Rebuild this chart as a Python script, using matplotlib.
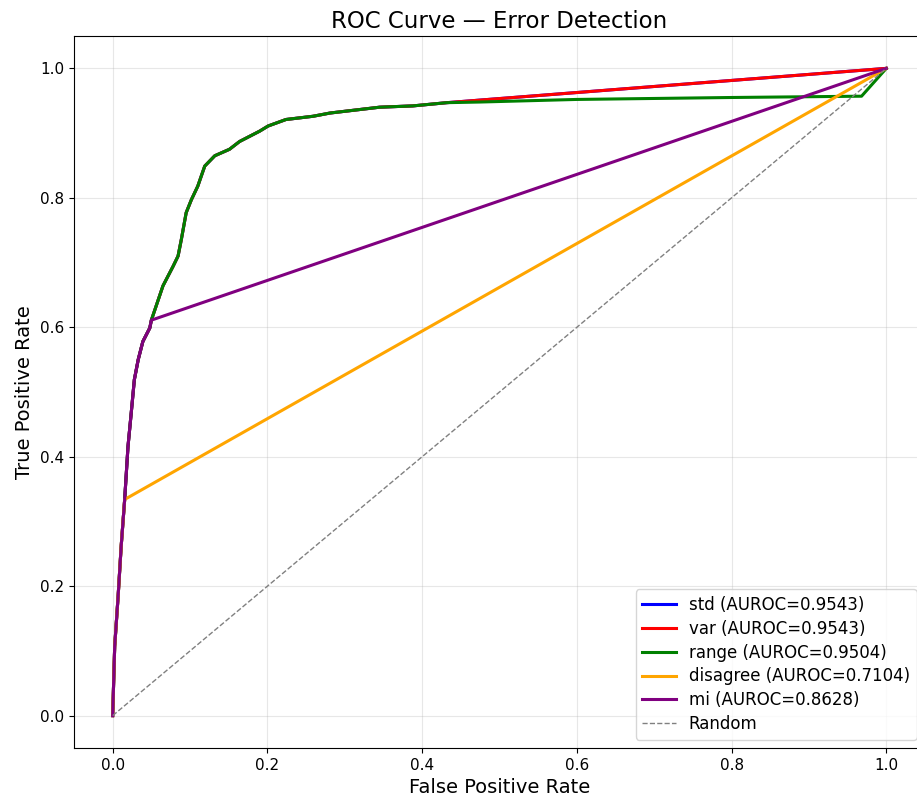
import matplotlib
matplotlib.use("Agg")
import matplotlib.pyplot as plt
import numpy as np

# shared base ROC curve (std / var / range share it at low FPR)
base_fpr = [0.0, 0.0026, 0.007, 0.011, 0.0155, 0.0198, 0.024, 0.028, 0.033, 0.039, 0.048, 0.050,
            0.065, 0.078, 0.0845, 0.0888, 0.095, 0.1017, 0.110, 0.119, 0.132, 0.151, 0.164,
            0.190, 0.201, 0.224, 0.259, 0.281, 0.345, 0.388, 0.432]
base_tpr = [0.0, 0.107, 0.184, 0.262, 0.334, 0.416, 0.468, 0.519, 0.550, 0.578, 0.599, 0.611,
            0.664, 0.694, 0.710, 0.736, 0.777, 0.797, 0.818, 0.849, 0.865, 0.875, 0.887,
            0.903, 0.911, 0.921, 0.926, 0.931, 0.940, 0.942, 0.947]

std_fpr = base_fpr + [1.0]
std_tpr = base_tpr + [1.0]
var_fpr = base_fpr + [1.0]
var_tpr = base_tpr + [1.0]
range_fpr = base_fpr + [0.475, 0.6, 0.8, 0.968, 1.0]
range_tpr = base_tpr + [0.948, 0.952, 0.955, 0.957, 1.0]
disagree_fpr = base_fpr[:5] + [1.0]
disagree_tpr = base_tpr[:5] + [1.0]
mi_fpr = base_fpr[:12] + [1.0]
mi_tpr = base_tpr[:12] + [1.0]

names = ["std", "var", "range", "disagree", "mi"]
aurocs = [0.9543, 0.9543, 0.9504, 0.7104, 0.8628]
colors = ["blue", "red", "green", "orange", "purple"]
fprs = [std_fpr, var_fpr, range_fpr, disagree_fpr, mi_fpr]
tprs = [std_tpr, var_tpr, range_tpr, disagree_tpr, mi_tpr]

fig = plt.figure(figsize=(9.17, 8.06), dpi=100)
ax = fig.add_axes([74/917, 58/806, 851/917, 712/806])
for n, a, c, fx, ty in zip(names, aurocs, colors, fprs, tprs):
    ax.plot(fx, ty, color=c, lw=2.2, label=f"{n} (AUROC={a:.4f})")
ax.plot([0, 1], [0, 1], "--", color="gray", lw=1, label="Random")
ax.set_xlabel("False Positive Rate", fontsize=14)
ax.set_ylabel("True Positive Rate", fontsize=14)
ax.set_title("ROC Curve — Error Detection", fontsize=16.5)
ax.tick_params(labelsize=11)
ax.grid(True, alpha=0.3)
ax.legend(loc="lower right", fontsize=12, labelspacing=0.35)
fig.savefig("out.png", dpi=100)
